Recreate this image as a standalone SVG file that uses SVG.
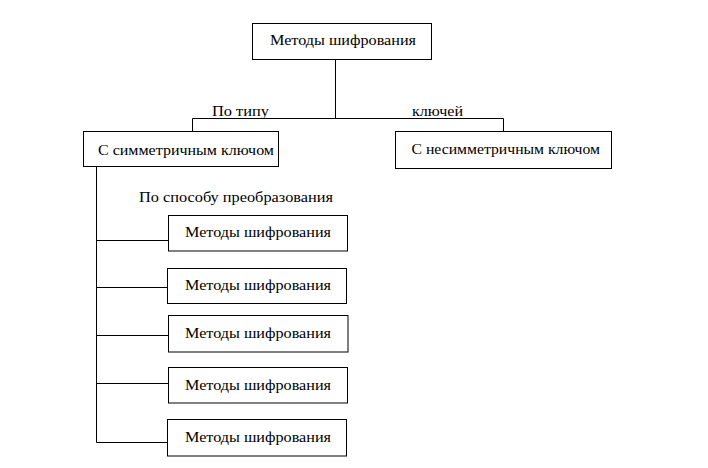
<svg xmlns="http://www.w3.org/2000/svg" width="708" height="468" viewBox="0 0 708 468">
<style>
.box{fill:#fff;stroke:#000;stroke-width:1}
.ln{fill:none;stroke:#000;stroke-width:1}
.t{font-family:'Liberation Serif','DejaVu Serif',serif;font-size:14px;fill:#000}
</style>
<rect width="708" height="468" fill="#fff"/>
<g id="connectors">
<path class="ln" d="M335.5 59.5V118.5M192.5 118.5H503.5M192.5 118.5V131.5M503.5 118.5V131.5"/>
<path class="ln" d="M96.5 166.5V442.5M96.5 240.5H168M96.5 287.5H168M96.5 335.5H168M96.5 383.5H168M96.5 442.5H168"/>
<text class="t" x="212" y="116" textLength="57" lengthAdjust="spacingAndGlyphs">По типу</text>
<text class="t" x="412" y="116" textLength="51" lengthAdjust="spacingAndGlyphs">ключей</text>
<text class="t" x="139" y="202" textLength="194" lengthAdjust="spacingAndGlyphs">По способу преобразования</text>
</g>
<g id="root">
<rect class="box" x="252.5" y="23.5" width="179" height="36"/>
<text class="t" x="270" y="44.5" textLength="146" lengthAdjust="spacingAndGlyphs">Методы шифрования</text>
</g>
<g id="sym">
<rect class="box" x="83.5" y="131.5" width="195" height="35"/>
<text class="t" x="98" y="155" textLength="176" lengthAdjust="spacingAndGlyphs">С симметричным ключом</text>
</g>
<g id="asym">
<rect class="box" x="395.5" y="131.5" width="216" height="37"/>
<text class="t" x="411.5" y="154" textLength="188.5" lengthAdjust="spacingAndGlyphs">С несимметричным ключом</text>
</g>
<g id="m1">
<rect class="box" x="168.5" y="215.5" width="179" height="35.5"/>
<text class="t" x="185" y="237" textLength="146" lengthAdjust="spacingAndGlyphs">Методы шифрования</text>
</g>
<g id="m2">
<rect class="box" x="167.5" y="268.5" width="179" height="35"/>
<text class="t" x="185" y="290" textLength="146" lengthAdjust="spacingAndGlyphs">Методы шифрования</text>
</g>
<g id="m3">
<rect class="box" x="168.5" y="315.5" width="179.5" height="36.5"/>
<text class="t" x="185" y="338" textLength="146" lengthAdjust="spacingAndGlyphs">Методы шифрования</text>
</g>
<g id="m4">
<rect class="box" x="168.5" y="367.5" width="179" height="35.5"/>
<text class="t" x="185" y="390" textLength="146" lengthAdjust="spacingAndGlyphs">Методы шифрования</text>
</g>
<g id="m5">
<rect class="box" x="167.5" y="419.5" width="179" height="36.5"/>
<text class="t" x="185" y="442" textLength="146" lengthAdjust="spacingAndGlyphs">Методы шифрования</text>
</g>
</svg>
